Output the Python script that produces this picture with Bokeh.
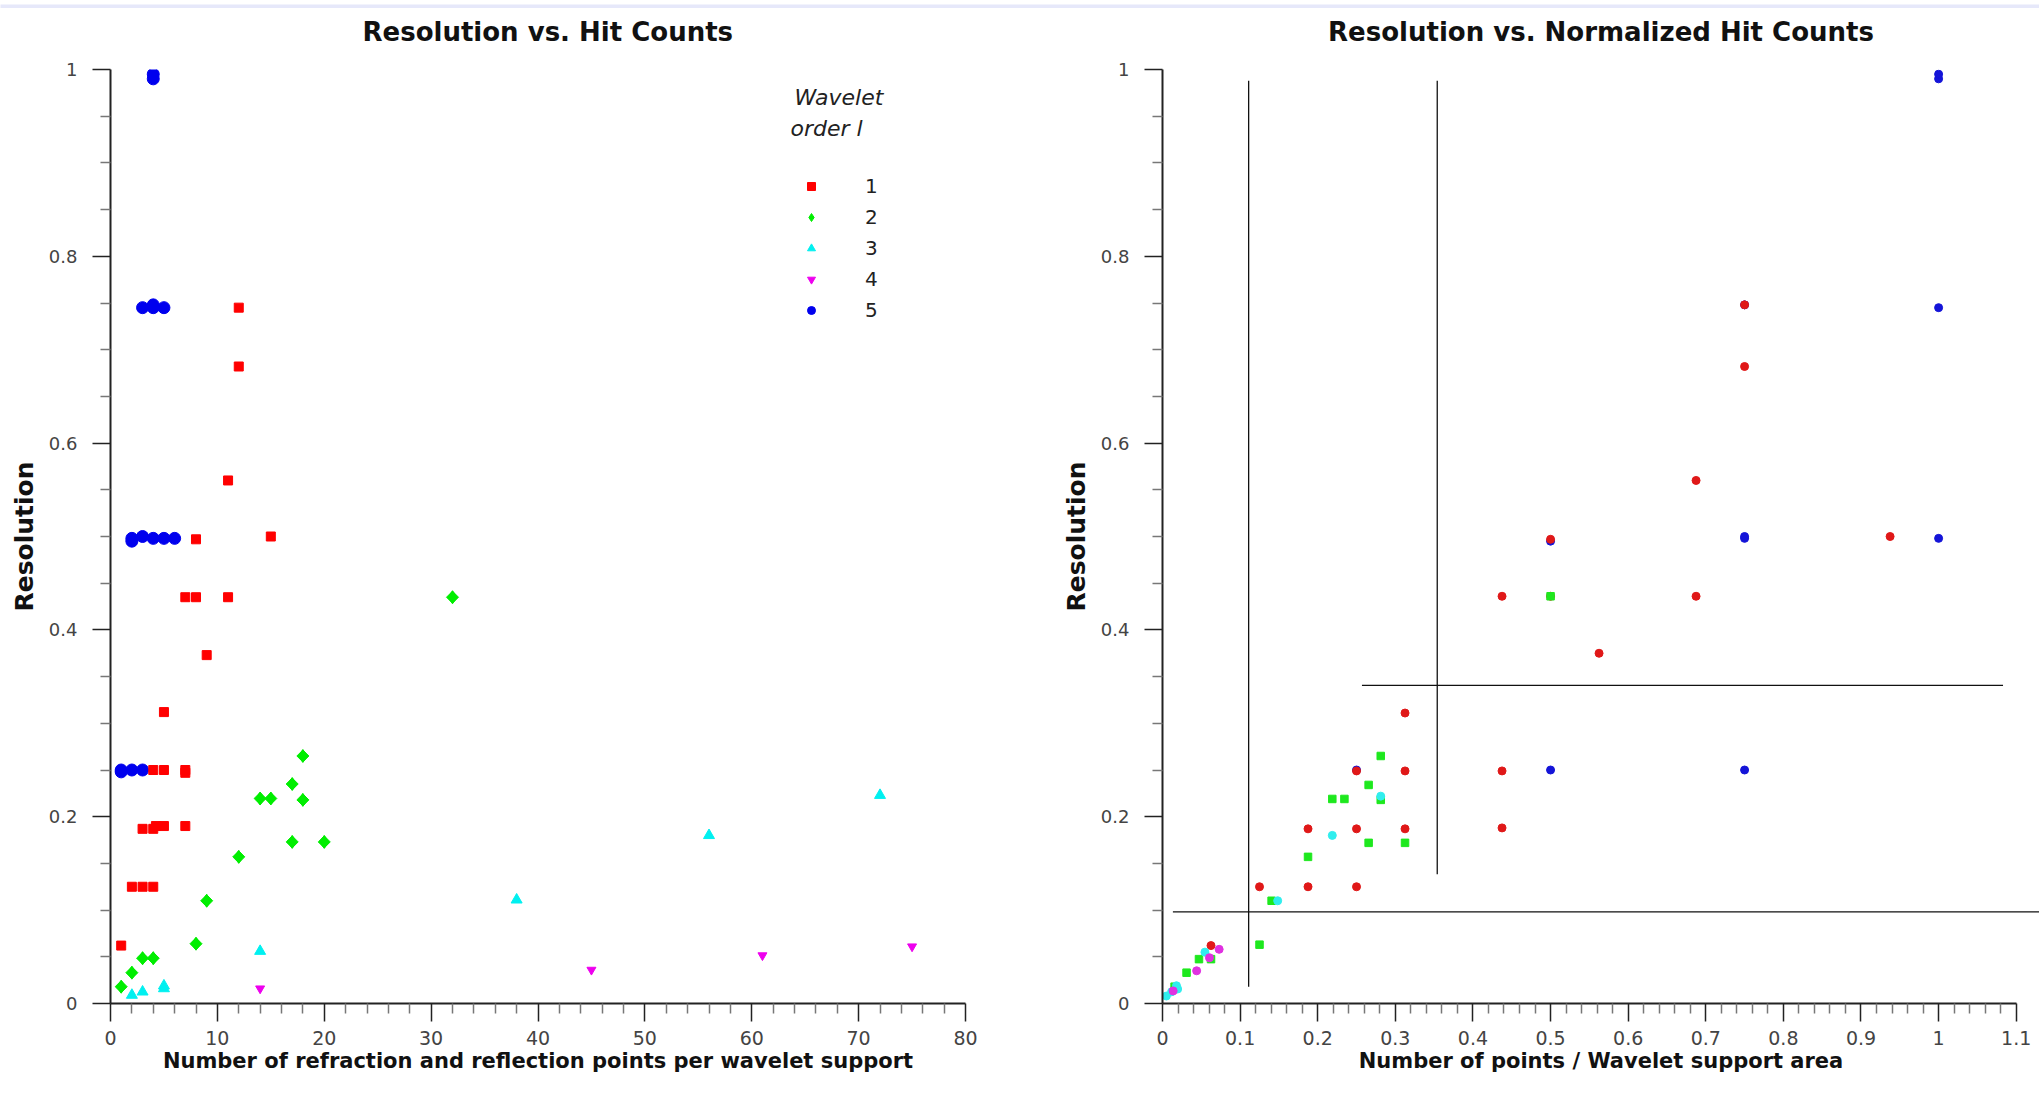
import math
from bokeh.plotting import figure
from bokeh.models import FixedTicker, Legend, LegendItem, Label, Title
from bokeh.layouts import row, column
from bokeh.embed import file_html
from bokeh.resources import INLINE

# ---------------- data: left panel (hit counts) ----------------
red_x = [1, 2, 3, 4, 3, 4, 4.25, 5, 7, 4, 5, 7, 7, 5, 7, 8, 11, 8, 15, 9, 11, 12, 12]
red_y = [0.062, 0.125, 0.125, 0.125, 0.187, 0.187, 0.19, 0.19, 0.19, 0.25, 0.25, 0.25, 0.247,
         0.312, 0.435, 0.435, 0.435, 0.497, 0.5, 0.373, 0.56, 0.682, 0.745]
green_x = [1, 2, 3, 4, 8, 9, 12, 14, 15, 17, 17, 18, 18, 20, 32]
green_y = [0.018, 0.033, 0.0485, 0.0485, 0.064, 0.11, 0.157, 0.2195, 0.2195, 0.235, 0.173,
           0.265, 0.218, 0.173, 0.435]
cyan_x = [2, 3, 5, 5, 14, 38, 56, 72]
cyan_y = [0.009, 0.0125, 0.019, 0.016, 0.056, 0.111, 0.18, 0.223]
magenta_x = [14, 45, 61, 75]
magenta_y = [0.016, 0.036, 0.0515, 0.061]
blue_x = [1, 1, 2, 3, 2, 2, 3, 4, 5, 6, 3, 4, 4, 5, 4, 4]
blue_y = [0.248, 0.25, 0.25, 0.25, 0.495, 0.498, 0.5, 0.498, 0.498, 0.498,
          0.745, 0.745, 0.748, 0.745, 0.99, 0.995]

# ---------------- data: right panel (normalized hit counts) ----------------
nred_x = [0.0625, 0.125, 0.1875, 0.25, 0.1875, 0.25, 0.3125, 0.4375, 0.25, 0.3125, 0.4375,
          0.3125, 0.5625, 0.4375, 0.6875, 0.5, 0.5, 0.9375, 0.6875, 0.75, 0.75]
nred_y = [0.062, 0.125, 0.125, 0.125, 0.187, 0.187, 0.187, 0.188, 0.249, 0.249, 0.249,
          0.311, 0.375, 0.436, 0.436, 0.436, 0.497, 0.5, 0.56, 0.682, 0.748]
ngreen_x = [0.0156, 0.031, 0.047, 0.0625, 0.125, 0.1406, 0.1875, 0.2656, 0.3125, 0.2188,
            0.2344, 0.2812, 0.2656, 0.2812, 0.5]
ngreen_y = [0.018, 0.033, 0.0475, 0.0475, 0.063, 0.11, 0.157, 0.172, 0.172, 0.219,
            0.219, 0.218, 0.234, 0.265, 0.436]
ncyan_x = [0.005, 0.0117, 0.018, 0.0195, 0.0547, 0.1484, 0.2188, 0.2812]
ncyan_y = [0.008, 0.0125, 0.019, 0.0155, 0.055, 0.11, 0.18, 0.222]
nmag_x = [0.0137, 0.044, 0.0605, 0.073]
nmag_y = [0.0135, 0.035, 0.049, 0.058]
nblue_x = [0.25, 0.5, 0.75, 0.5, 0.75, 0.75, 1.0, 0.75, 1.0, 1.0, 1.0]
nblue_y = [0.25, 0.25, 0.25, 0.495, 0.498, 0.5, 0.498, 0.748, 0.745, 0.99, 0.995]

# threshold lines drawn in the right panel
vline_x = [0.111, 0.354]
vline_y0 = [0.018, 0.1385]
vline_y1 = [0.988, 0.988]
hline_y = [0.3405, 0.098]
hline_x0 = [0.257, 0.0134]
hline_x1 = [1.083, 1.14]

# ---------------- ticks ----------------
res_ticks = [0, 0.2, 0.4, 0.6, 0.8, 1]
res_labels = ["0", "0.2", "0.4", "0.6", "0.8", "1"]
hit_ticks = [0, 10, 20, 30, 40, 50, 60, 70, 80]
hit_labels = ["0", "10", "20", "30", "40", "50", "60", "70", "80"]
norm_ticks = [0, 0.1, 0.2, 0.3, 0.4, 0.5, 0.6, 0.7, 0.8, 0.9, 1.0, 1.1]
norm_labels = ["0", "0.1", "0.2", "0.3", "0.4", "0.5", "0.6", "0.7", "0.8", "0.9", "1", "1.1"]
legend_labels = ["1", "2", "3", "4", "5"]

res_minor = [round(i * 0.05, 4) for i in range(21) if i % 4]
hit_minor = [i * 2 for i in range(41) if i % 5]
norm_minor = [round(i * 0.02, 4) for i in range(56) if i % 5]

FONT = "DejaVu Sans"
RED, GREEN, CYAN, MAG, BLUE = "#ff0000", "#00ee00", "#00f0f0", "#ee00ee", "#0000ee"
NRED, NGREEN, NCYAN, NMAG, NBLUE = "#e01818", "#1ee81e", "#30eeee", "#e030e0", "#1414d8"


def style_axes(p, xticks, xlabels, xminor, xlabel, xbounds, title, align, offset):
    xa = p.xaxis[0]
    ya = p.yaxis[0]
    xa.ticker = FixedTicker(ticks=xticks, minor_ticks=xminor)
    xa.major_label_overrides = dict(zip(xticks, xlabels))
    ya.ticker = FixedTicker(ticks=res_ticks, minor_ticks=res_minor)
    ya.major_label_overrides = dict(zip(res_ticks, res_labels))
    xa.bounds = xbounds
    for ax in (xa, ya):
        ax.axis_line_color = "#222222"
        ax.axis_line_width = 2
        ax.major_tick_line_color = "#222222"
        ax.major_tick_line_width = 1.5
        ax.minor_tick_line_color = "#777777"
        ax.minor_tick_line_width = 1.5
        ax.major_tick_in = 0
        ax.major_tick_out = 18
        ax.minor_tick_in = 0
        ax.minor_tick_out = 10
        ax.major_label_text_font = FONT
        ax.major_label_text_color = "#444444"
        ax.axis_label_text_font = FONT
        ax.axis_label_text_font_style = "bold"
        ax.axis_label_text_color = "#111111"
    xa.axis_label = xlabel
    xa.major_label_text_font_size = "19px"
    xa.major_label_standoff = 9
    xa.axis_label_text_font_size = "21px"
    xa.axis_label_standoff = 1
    ya.axis_label = "Resolution"
    ya.major_label_text_font_size = "18px"
    ya.major_label_standoff = 15
    ya.axis_label_text_font_size = "25px"
    ya.axis_label_standoff = 7
    p.xgrid.visible = False
    p.ygrid.visible = False
    p.outline_line_color = None
    # spacer title (closest to the frame) pushes the real title upward
    p.add_layout(Title(text=" ", text_font_size="6px"), "above")
    p.add_layout(Title(text=title, text_font=FONT, text_font_size="26px",
                       text_font_style="bold", text_color="#111111",
                       align=align, offset=offset), "above")


strip = figure(width=2039, height=8, min_border=0, toolbar_location=None,
               x_axis_location=None, y_axis_location=None, output_backend="svg",
               background_fill_color="#e6e8fa", border_fill_color="#e6e8fa")
strip.outline_line_color = None
strip.xgrid.visible = False
strip.ygrid.visible = False

p1 = figure(frame_width=855, frame_height=934, x_range=(0, 80), y_range=(0, 1),
            min_border_left=110, min_border_right=30, min_border_top=61, min_border_bottom=92,
            title=None, toolbar_location=None, output_backend="svg")
style_axes(p1, hit_ticks, hit_labels, hit_minor,
           "Number of refraction and reflection points per wavelet support", (0, 80),
           "Resolution vs. Hit Counts", "left", 252)

r_blue = p1.scatter(blue_x, blue_y, marker="circle", size=12, fill_color=BLUE, line_color=BLUE)
r_red = p1.scatter(red_x, red_y, marker="square", size=9, fill_color=RED, line_color=RED)
# diamond renderer (used as the legend swatch), covered by the rotated squares below
r_green = p1.scatter(green_x, green_y, marker="diamond", size=13, fill_color=GREEN,
                     line_color=GREEN)
p1.scatter(green_x, green_y, marker="square", angle=math.pi / 4, size=8.5,
           fill_color=GREEN, line_color=GREEN)
r_cyan = p1.scatter(cyan_x, cyan_y, marker="triangle", size=11, fill_color=CYAN, line_color=CYAN)
r_mag = p1.scatter(magenta_x, magenta_y, marker="inverted_triangle", size=9,
                   fill_color=MAG, line_color=MAG)

legend = Legend(items=[LegendItem(label=lab, renderers=[r])
                       for lab, r in zip(legend_labels, [r_red, r_green, r_cyan, r_mag, r_blue])],
                location=(691, 681), orientation="vertical", glyph_width=20, glyph_height=20,
                label_standoff=44, spacing=7, padding=0, margin=0, label_height=20,
                border_line_alpha=0, background_fill_alpha=0,
                label_text_font=FONT, label_text_font_size="20px", label_text_color="#222222")
p1.add_layout(legend)
p1.add_layout(Label(x=684, y=906, x_units="screen", y_units="screen", text="Wavelet",
                    text_font=FONT, text_font_style="italic", text_font_size="22px",
                    text_baseline="middle", text_color="#222222"))
p1.add_layout(Label(x=680, y=875, x_units="screen", y_units="screen", text="order l",
                    text_font=FONT, text_font_style="italic", text_font_size="22px",
                    text_baseline="middle", text_color="#222222"))

p2 = figure(frame_width=877, frame_height=934, x_range=(0, 1.13), y_range=(0, 1),
            min_border_left=167, min_border_right=0, min_border_top=61, min_border_bottom=92,
            title=None, toolbar_location=None, output_backend="svg")
style_axes(p2, norm_ticks, norm_labels, norm_minor,
           "Number of points / Wavelet support area", (0, 1.1),
           "Resolution vs. Normalized Hit Counts", "center", 0)

p2.segment(x0=vline_x, y0=vline_y0, x1=vline_x, y1=vline_y1, line_color="#111111", line_width=1.3)
p2.segment(x0=hline_x0, y0=hline_y, x1=hline_x1, y1=hline_y, line_color="#111111", line_width=1.3)

p2.scatter(nblue_x, nblue_y, marker="circle", size=8, fill_color=NBLUE, line_color=NBLUE)
p2.scatter(nred_x, nred_y, marker="circle", size=8, fill_color=NRED, line_color=NRED)
p2.scatter(ngreen_x, ngreen_y, marker="square", size=7.5, fill_color=NGREEN, line_color=NGREEN)
p2.scatter(ncyan_x, ncyan_y, marker="circle", size=8, fill_color=NCYAN, line_color=NCYAN)
p2.scatter(nmag_x, nmag_y, marker="circle", size=8, fill_color=NMAG, line_color=NMAG)

layout = column(strip, row(p1, p2))
open("out.html", "w").write(file_html(layout, INLINE))
